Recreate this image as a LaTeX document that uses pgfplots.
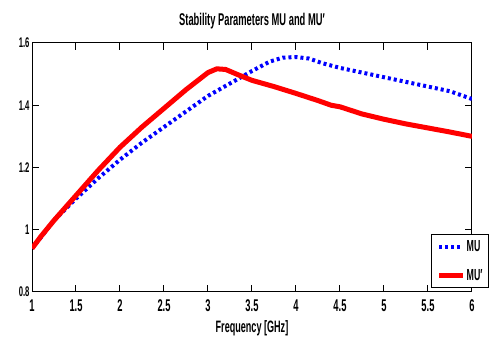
\documentclass[border=0pt]{standalone}
\usepackage{pgfplots}
\pgfplotsset{compat=1.18}
\usepackage{fontspec}
\setmainfont{Liberation Sans}[FakeStretch=0.55]
\begin{document}
\begin{tikzpicture}
\begin{axis}[
  at={(0,0)}, anchor=south west,
  scale only axis, width=440pt, height=249pt,
  xmin=1, xmax=6, ymin=0.8, ymax=1.6,
  xtick={1,1.5,...,6}, ytick={0.8,1,1.2,1.4,1.6},
  xticklabels={1,1.5,2,2.5,3,3.5,4,4.5,5,5.5,6},
  yticklabels={0.8,1,1.2,1.4,1.6},
  tick align=inside, major tick length=7pt,
  tick style={black, line width=1pt},
  axis line style={black, line width=1pt},
  xticklabel style={font=\fontsize{17}{17}\selectfont\bfseries, yshift=-4pt},
  yticklabel style={font=\fontsize{14}{14}\selectfont\bfseries, xshift=1pt},
  title={\fontsize{17}{17}\selectfont\bfseries Stability Parameters MU and MU′},
  title style={yshift=4pt},
  xlabel={\fontsize{16.5}{16.5}\selectfont\bfseries Frequency [GHz]},
  xlabel style={yshift=-2pt},
  legend style={at={(1.0386,0.016)}, anchor=south east, draw=black, line width=1pt, font=\fontsize{16}{16}\selectfont\bfseries, row sep=14pt, inner sep=5pt, nodes={inner sep=1pt}},
  legend cell align=left,
  legend image code/.code={\draw[#1] (0pt,0pt) -- (24pt,0pt);},
]
\addplot[blue, line width=4pt, dash pattern=on 3pt off 3pt] coordinates {
(1,0.94) (1.1,0.975) (1.25,1.03) (1.5,1.10) (1.75,1.165) (2,1.225) (2.25,1.28) (2.5,1.33) (2.75,1.38) (3,1.43) (3.25,1.47) (3.5,1.51) (3.7,1.54) (3.85,1.553) (4,1.555) (4.15,1.55) (4.3,1.535) (4.5,1.52) (4.75,1.505) (5,1.49) (5.25,1.475) (5.5,1.46) (5.75,1.445) (6,1.42)
};
\addlegendentry{MU}
\addplot[red, line width=5pt, line join=round] coordinates {
(1,0.94) (1.1,0.978) (1.25,1.03) (1.5,1.11) (1.75,1.19) (2,1.265) (2.25,1.33) (2.5,1.39) (2.75,1.45) (3,1.505) (3.1,1.517) (3.2,1.515) (3.35,1.497) (3.5,1.48) (3.75,1.46) (4,1.438) (4.25,1.415) (4.4,1.40) (4.5,1.395) (4.75,1.372) (5,1.355) (5.25,1.34) (5.5,1.327) (5.75,1.314) (6,1.30)
};
\addlegendentry{MU′}
\end{axis}
\path[use as bounding box] (-32pt,-53pt) rectangle (459pt,292pt);
\end{tikzpicture}
\end{document}
